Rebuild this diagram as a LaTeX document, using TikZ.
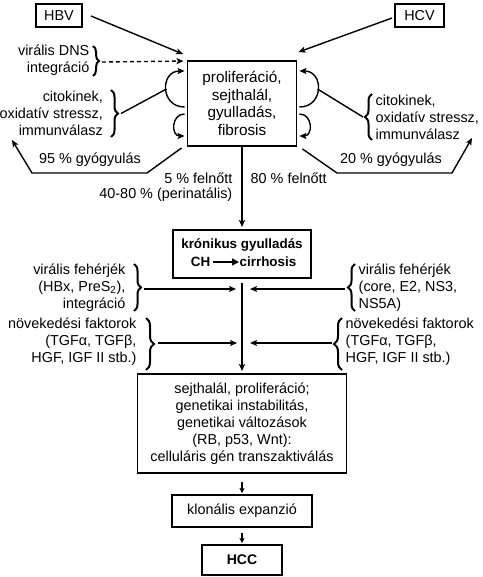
\documentclass[tikz,border=0pt]{standalone}
\usepackage{fontspec}
\setmainfont{Liberation Sans}
\usetikzlibrary{arrows.meta,decorations.pathreplacing,calc}
\newcommand\basefont{\fontsize{14.4}{17}\selectfont}
\newcommand\mainfont{\fontsize{15.3}{17.5}\selectfont}
\newcommand\boldfont{\fontsize{13.4}{16}\selectfont\bfseries}
\begin{document}
\begin{tikzpicture}[x=1pt,y=-1pt, font=\basefont, line width=1.4pt,
  box/.style={draw, line width=1.9pt, inner sep=0pt, align=center, font=\basefont},
  boldbox/.style={box, font=\fontsize{14}{16}\selectfont\bfseries},
  txt/.style={inner sep=0pt, font=\basefont},
  boldtxt/.style={inner sep=0pt, font=\boldfont},
  arr/.style={-{Stealth[length=7pt,width=6pt,inset=1.5pt]}, line width=1.4pt},
  arrsm/.style={-{Stealth[length=5pt,width=5pt,inset=1pt]}, line width=1.4pt},
  brc/.style={decorate, decoration={brace, amplitude=#1}, line width=2pt},
]
\useasboundingbox (0,0) rectangle (482,577);

% boxes
\node[box, minimum width=46pt, minimum height=23pt] (hbv) at (59,15.5) {HBV};
\node[box, minimum width=49pt, minimum height=23pt] (hcv) at (419.5,15.5) {HCV};
\node[box, font=\mainfont, minimum width=109pt, minimum height=85pt] (main) at (242,103.5)
  {proliferáció,\\sejthalál,\\gyulladás,\\fibrosis};
\node[box, minimum width=138pt, minimum height=48pt] (kron) at (242,254) {};
\node[boldtxt] (kt) at (242,245.5) {krónikus gyulladás};
\node[boldtxt, anchor=east] (ch) at (211,262) {CH};
\node[boldtxt, anchor=west] (cir) at (239,262) {cirrhosis};
\node[box, minimum width=209pt, minimum height=99pt] (big) at (242,423.5)
  {sejthalál, proliferáció;\\genetikai instabilitás,\\genetikai változások\\(RB, p53, Wnt):\\celluláris gén transzaktiválás};
\node[box, minimum width=140pt, minimum height=32pt] (klon) at (242,511) {klonális expanzió};
\node[boldbox, minimum width=80pt, minimum height=30pt] (hcc) at (242,560) {HCC};

% top arrows
\draw[arr] ($(hbv.east)+(8,0.5)$) -- ($(main.north west)+(-3.5,-6)$);
\draw[arr] ($(hcv.west)+(-2,2.5)$) -- ($(main.north east)+(1,-8)$);

% left side texts and braces
\node[txt, anchor=east, align=right] (dns) at (90,60.5) {virális DNS\\integráció};
\draw[brc=6pt] (93,46) -- (93,76);
\coordinate (dnst) at (102,62);
\draw[arr, dash pattern=on 4pt off 3pt] (dnst) -- ($(main.north west)+(-3,1)$);

\node[txt, anchor=east, align=right] (cytL) at (103.5,113) {citokinek,\\oxidatív stressz,\\immunválasz};
\draw[brc=7pt] (111,90) -- (111,137);
\coordinate (cytLt) at (121,113.5);
\coordinate (arcL) at (166.5,89);
\draw (cytLt) -- (arcL);
\draw[arr] ($(main.west)+(-2,3.5)$) .. controls (160,107) and (160,71) .. ($(main.west)+(-2,-32.5)$);
\draw[arr] ($(main.west)+(-2,10.5)$) .. controls (171,114) and (171,136) .. ($(main.west)+(-2,32.5)$);

% right side
\node[txt, anchor=west, align=left] (cytR) at (375,117) {citokinek,\\oxidatív stressz,\\immunválasz};
\draw[brc=7pt] (372,140) -- (372,94);
\coordinate (cytRt) at (363,117);
\coordinate (arcR) at (317.5,89);
\draw (cytRt) -- (arcR);
\draw[arr] ($(main.east)+(2,3.5)$) .. controls (324,107) and (324,71) .. ($(main.east)+(2,-32.5)$);
\draw[arr] ($(main.east)+(2,10.5)$) .. controls (313,114) and (313,136) .. ($(main.east)+(2,32.5)$);

% healing arrows
\coordinate (heal1) at (12,140);
\coordinate (heal2) at (472,138);
\draw[arr] ($(main.south west)+(-5,1)$) -- (147,173) -- (32,173) -- (heal1);
\draw[arr] ($(main.south east)+(5,2)$) -- (337,173) -- (452,173) -- (heal2);
\node[txt] (h95) at (90,160) {95 \% gyógyulás};
\node[txt] (h20) at (391,160) {20 \% gyógyulás};

% main -> kron
\draw[arr, shorten >=2pt] (main.south) -- (kron.north);
\node[txt, anchor=east] (f5) at (233,178) {5 \% felnőtt};
\node[txt, anchor=east] (f40) at (233,195) {40-80 \% (perinatális)};
\node[txt, anchor=west] (f80) at (250,178) {80 \% felnőtt};

% CH -> cirrhosis
\draw[-{Triangle[length=7pt,width=7pt]}, line width=1.6pt, shorten <=2pt] (ch.east) -- (cir.west);

% kron -> big
\draw[arr] ($(kron.south)+(0,4)$) -- ($(big.north)+(0,-2)$);

% left groups
\node[txt, anchor=east, align=right] (vpL) at (126,288) {virális fehérjék\\(HBx, PreS\textsubscript{2}),\\integráció};
\draw[brc=7pt] (134,264) -- (134,311);
\coordinate (vpLt) at (144,289);
\coordinate (vL1) at (236,289);
\draw[arr] (vpLt) -- (vL1);

\node[txt, anchor=east, align=right] (gfL) at (137,342) {növekedési faktorok\\(TGFα, TGFβ,\\HGF, IGF II stb.)};
\draw[brc=8pt] (146,318) -- (146,370);
\coordinate (gfLt) at (158,343);
\coordinate (vL2) at (237,343);
\draw[arr] (gfLt) -- (vL2);

% right groups
\node[txt, anchor=west, align=left] (vpR) at (358,288) {virális fehérjék\\(core, E2, NS3,\\NS5A)};
\draw[brc=7pt] (355,311) -- (355,264);
\coordinate (vpRt) at (345,289);
\coordinate (vR1) at (250,289);
\draw[arr] (vpRt) -- (vR1);

\node[txt, anchor=west, align=left] (gfR) at (345,342) {növekedési faktorok\\(TGFα, TGFβ,\\HGF, IGF II stb.)};
\draw[brc=8pt] (342,370) -- (342,318);
\coordinate (gfRt) at (332,343);
\coordinate (vR2) at (250,343);
\draw[arr] (gfRt) -- (vR2);

% bottom chain
\draw[arrsm] ($(big.south)+(0,8)$) -- ($(klon.north)+(0,-1)$);
\draw[arrsm] ($(klon.south)+(0,5)$) -- ($(hcc.north)+(0,-1)$);
\end{tikzpicture}
\end{document}
